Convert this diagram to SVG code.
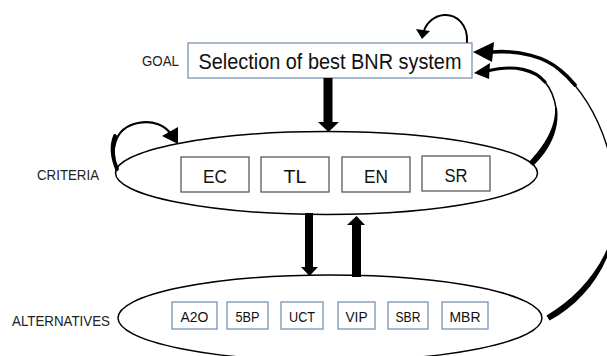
<svg xmlns="http://www.w3.org/2000/svg" width="607" height="356" viewBox="0 0 607 356">
  <style>
    .lbl { font-family: "Liberation Sans", Arial, sans-serif; fill: #222; font-size: 14.5px; }
    .txt { font-family: "Liberation Sans", Arial, sans-serif; fill: #111; text-anchor: middle; }
    .bbox { fill: #fff; stroke: #7a92b5; stroke-width: 1.3; }
    .cbox { fill: #fff; stroke: #595959; stroke-width: 1.3; }
    .ell { fill: #fff; stroke: #000; stroke-width: 1.5; }
    .ln { fill: none; stroke: #000; stroke-linecap: round; }
    .fl { fill: #000; stroke: none; }
  </style>
  <rect width="607" height="356" fill="#fff"/>

  <text class="lbl" x="142" y="66" textLength="37" lengthAdjust="spacingAndGlyphs">GOAL</text>
  <text class="lbl" x="37" y="180" textLength="62" lengthAdjust="spacingAndGlyphs">CRITERIA</text>
  <text class="lbl" x="12" y="325.5" textLength="98" lengthAdjust="spacingAndGlyphs">ALTERNATIVES</text>

  <g id="criteria">
    <ellipse class="ell" cx="326.5" cy="173" rx="211" ry="41.5"/>
    <g id="EC"><rect class="cbox" x="181" y="157" width="68" height="35"/><text class="txt" x="215" y="182.5" font-size="19" textLength="24" lengthAdjust="spacingAndGlyphs">EC</text></g>
    <g id="TL"><rect class="cbox" x="261" y="157" width="68" height="35"/><text class="txt" x="295" y="182.5" font-size="19" textLength="23" lengthAdjust="spacingAndGlyphs">TL</text></g>
    <g id="EN"><rect class="cbox" x="342" y="157" width="68" height="35"/><text class="txt" x="376" y="182.5" font-size="19" textLength="24" lengthAdjust="spacingAndGlyphs">EN</text></g>
    <g id="SR"><rect class="cbox" x="422" y="156" width="68" height="35"/><text class="txt" x="456" y="181.5" font-size="19" textLength="23" lengthAdjust="spacingAndGlyphs">SR</text></g>
  </g>

  <g id="alternatives">
    <ellipse class="ell" cx="330" cy="318" rx="212" ry="43"/>
    <g id="A2O"><rect class="bbox" x="172" y="302" width="45" height="27"/><text class="txt" x="194.5" y="321.5" font-size="15.5" textLength="28" lengthAdjust="spacingAndGlyphs">A2O</text></g>
    <g id="5BP"><rect class="bbox" x="227" y="302" width="41" height="27"/><text class="txt" x="247.5" y="321.5" font-size="15.5" textLength="24" lengthAdjust="spacingAndGlyphs">5BP</text></g>
    <g id="UCT"><rect class="bbox" x="281" y="302" width="42" height="27"/><text class="txt" x="302" y="321.5" font-size="15.5" textLength="26" lengthAdjust="spacingAndGlyphs">UCT</text></g>
    <g id="VIP"><rect class="bbox" x="338" y="302" width="37" height="27"/><text class="txt" x="356.5" y="321.5" font-size="15.5" textLength="22" lengthAdjust="spacingAndGlyphs">VIP</text></g>
    <g id="SBR"><rect class="bbox" x="388" y="302" width="40" height="27"/><text class="txt" x="408" y="321.5" font-size="15.5" textLength="25" lengthAdjust="spacingAndGlyphs">SBR</text></g>
    <g id="MBR"><rect class="bbox" x="442" y="302" width="46" height="27"/><text class="txt" x="465" y="321.5" font-size="15.5" textLength="31" lengthAdjust="spacingAndGlyphs">MBR</text></g>
  </g>

  <g id="goal">
    <rect class="bbox" x="188" y="43" width="284" height="35"/>
    <text class="txt" x="330" y="68.5" font-size="22" textLength="263" lengthAdjust="spacingAndGlyphs">Selection of best BNR system</text>
  </g>

  <g id="connectors">
    <!-- goal -> criteria -->
    <rect class="fl" x="323.5" y="78" width="9" height="45"/>
    <polygon class="fl" points="318,122 339,122 328.5,132"/>
    <!-- criteria -> alternatives -->
    <rect class="fl" x="305" y="213" width="8" height="55"/>
    <polygon class="fl" points="301,267 318,267 309.5,276"/>
    <!-- alternatives -> criteria -->
    <rect class="fl" x="352" y="224" width="9" height="53"/>
    <polygon class="fl" points="347,225 365,225 356.5,216"/>

    <!-- goal self loop -->
    <path class="ln" stroke-width="2" d="M467,42 C468,24 456,14 444,15 C433,16 426,24 424,31"/>
    <polygon class="fl" points="422,39 416,29 430,31"/>

    <!-- criteria self loop -->
    <path class="ln" stroke-width="2.2" d="M117,170 C110,152 113,128 138,123 C154,120 165,126 170,133"/>
    <path class="ln" stroke-width="3.8" d="M117,169 C112,157 111,146 115,136"/>
    <polygon class="fl" points="178,144 162,136 178,127"/>

    <!-- criteria -> goal (right) -->
    <path class="fl" d="M529,162 C544,146 556,127 555,108 L557,108 C560,129 550,150 533,166 Z"/>
    <path class="ln" stroke-width="1.6" d="M556,108 C554,95 550,88 545,82"/>
    <path class="ln" stroke-width="3.2" d="M545,82 C535,70 515,64 487,71"/>
    <polygon class="fl" points="474,73 490,63 489,79"/>

    <!-- alternatives -> goal (big right curve) -->
    <path class="fl" d="M546.5,315.4 C578,297 603,268 614.3,229.8 L615.7,230.2 C607,272 582,303 549.5,320.6 Z"/>
    <path class="ln" stroke-width="1.4" d="M615,230 C622,180 605,110 560,70"/>
    <path class="ln" stroke-width="3.6" d="M575,85 C570,79 565,74 560,70 C545,57 520,50 492,52"/>
    <polygon class="fl" points="473,52 494,42 492,62"/>
  </g>
</svg>
